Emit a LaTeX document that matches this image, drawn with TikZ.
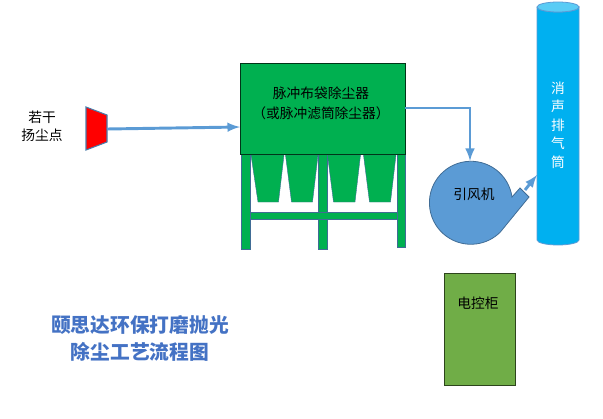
\documentclass[tikz,border=0pt]{standalone}
\usepackage{fontspec}
\setmainfont{Noto Sans CJK SC}
\definecolor{flow}{HTML}{5B9BD5}
\definecolor{filtergreen}{HTML}{00B050}
\definecolor{stackblue}{HTML}{00B0F0}
\definecolor{cabinetgreen}{HTML}{70AD47}
\definecolor{titleblue}{HTML}{4472C4}

\begin{document}
\begin{tikzpicture}[x=0.75pt,y=-0.75pt]
    \tikzstyle{connect}=[-latex, line width=2.2pt, draw=flow]
    \tikzstyle{steel}=[fill=filtergreen, draw=flow!70!black, line width=0.3pt]
    \tikzstyle{caption}=[font=\fontsize{10.3pt}{15pt}\selectfont, align=center, inner sep=0pt]
    \useasboundingbox (0,0) rectangle (603,418);

      % filter frame and hoppers
      \foreach \xa/\xb/\yb in {241/250/249, 318/327/249, 397/405/247}
        \draw[steel] (\xa,154) rectangle (\xb,\yb);
      \draw[steel] (250,212) rectangle (397,219);
      \foreach \xa/\xb/\xc/\xd in {251/284/278.5/258, 285.5/318/312.5/291.5, 327.5/360.5/355/333.5, 363.5/396/390.5/369.5}
        \draw[steel] (\xa,155) -- (\xb,155) -- (\xc,202) -- (\xd,202) -- cycle;

      \node[draw=black!70!filtergreen, fill=filtergreen, line width=0.6pt, inner sep=0pt, outer sep=0pt,
            minimum width=123.75pt, minimum height=68.25pt] (filter) at (322.5,108.5) {};
      \node[caption] (filtertext) at (321,103) {脉冲布袋除尘器\\（或脉冲滤筒除尘器）};

      % dust source
      \draw[fill=red, draw=flow!80!black, line width=0.8pt] (86,107) -- (107,115) -- (107,142) -- (86,150) -- cycle;
      \node[caption, font=\fontsize{10.3pt}{13.5pt}\selectfont] (source) at (42,126) {若干\\扬尘点};

      % fan
      \draw[fill=flow, draw=flow!70!black, line width=0.6pt] (512,197) arc[start angle=-8, end angle=-315, radius=41.5]
        -- (529,197) -- (520,188) -- cycle;
      \node[caption] (fantext) at (474,194) {引风机};

      % stack
      \draw[fill=stackblue, draw=flow, line width=0.6pt] (537,7) -- (537,240)
        arc[start angle=180, end angle=0, x radius=21, y radius=5] -- (579,7)
        arc[start angle=0, end angle=180, x radius=21, y radius=5];
      \draw[fill=stackblue!65!white, draw=flow, line width=0.6pt] (558,7) ellipse[x radius=21, y radius=5];
      \node[caption, text=white, font=\fontsize{10.3pt}{13.9pt}\selectfont] (stacktext) at (558,125) {消\\声\\排\\气\\筒};

      % cabinet
      \node[draw=black!60!cabinetgreen, fill=cabinetgreen, line width=0.6pt, inner sep=0pt, outer sep=0pt,
            minimum width=53.25pt, minimum height=84pt] (cabinet) at (479.5,329) {};
      \node[caption] (cabinettext) at (478,303) {电控柜};

      % title
      \node[caption, text=titleblue, font=\fontsize{14.8pt}{20pt}\selectfont\bfseries] (title) at (140,338.5) {颐思达环保打磨抛光\\除尘工艺流程图};

      % flow lines
      \coordinate (sourceout) at (107,129);
      \coordinate (filterin) at (240,127);
      \coordinate (filterout) at (405,108);
      \coordinate (fanin) at (470,161);
      \coordinate (fanout) at (525,190);
      \coordinate (stackin) at (537,175);
      \draw[connect] (sourceout) -- (filterin);
      \draw[connect] (filterout) -| (fanin);
      \draw[connect] (fanout) -- (stackin);
    \end{tikzpicture}
\end{document}
